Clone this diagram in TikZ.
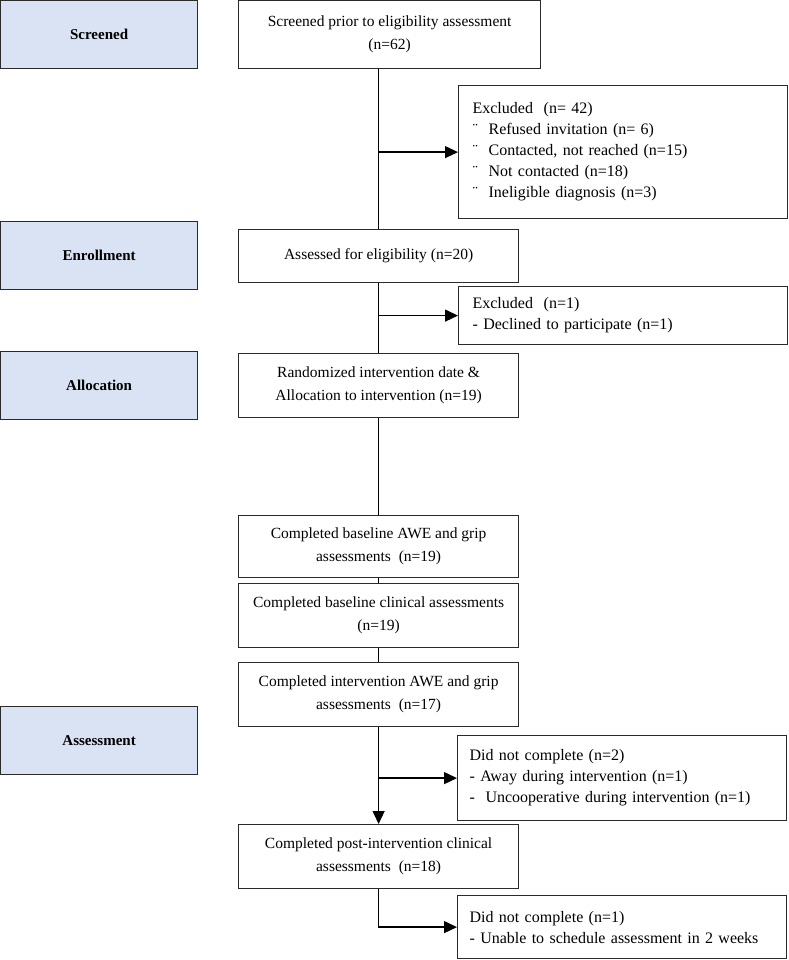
\documentclass[tikz,border=0pt]{standalone}
\usepackage{fontspec}
\setmainfont{Liberation Serif}
\usetikzlibrary{arrows.meta}

\definecolor{stagefill}{HTML}{DAE3F3}
\definecolor{edgegray}{HTML}{2B2B2B}

\begin{document}
\begin{tikzpicture}[x=1pt,y=-1pt]
  \tikzstyle{stage} = [draw=edgegray,line width=1.2pt,fill=stagefill,anchor=north west,
    minimum width=197pt,minimum height=68pt,inner sep=0pt,font=\fontsize{15}{18}\selectfont\bfseries]
  \tikzstyle{box} = [draw=edgegray,line width=1.2pt,fill=white,anchor=north west,align=center,
    minimum width=280pt,inner sep=0pt,font=\fontsize{15.5}{23}\selectfont]
  \tikzstyle{side} = [draw=edgegray,line width=1.2pt,fill=white,anchor=north west,align=left,
    text width=305pt,inner xsep=12pt,inner ysep=0pt,font=\fontsize{16}{21}\selectfont]
  \tikzstyle{line} = [line width=1.3pt]
  \tikzstyle{arr} = [line,-{Triangle[length=13pt,width=12pt]}]

  \useasboundingbox (0,0) rectangle (788,960);

  % stages on the left
  \node[stage] (scr) at (0,0)   {Screened};
  \node[stage] (enr) at (0,221) {Enrollment};
  \node[stage] (alc) at (0,351) {Allocation};
  \node[stage] (asm) at (0,706) {Assessment};

  % main column
  \node[box,minimum width=302pt,minimum height=68pt] (screen) at (238,0)
    {Screened prior to eligibility assessment\\(n=62)};
  \node[box,minimum height=53pt] (elig) at (238,229) {Assessed for eligibility (n=20)};
  \node[box,minimum height=64pt] (rand) at (238,353)
    {Randomized intervention date \&\\Allocation to intervention (n=19)};
  \node[box,minimum height=62pt] (basegrip) at (238,515)
    {Completed baseline AWE and grip\\assessments \ (n=19)};
  \node[box,minimum height=64pt] (baseclin) at (238,583)
    {Completed baseline clinical assessments\\(n=19)};
  \node[box,minimum height=64pt] (intgrip) at (238,662)
    {Completed intervention AWE and grip\\assessments \ (n=17)};
  \node[box,minimum height=64pt] (postclin) at (238,824)
    {Completed post-intervention clinical\\assessments \ (n=18)};

  % excluded / dropped out
  \node[side,minimum height=133pt,inner xsep=14pt,text width=301pt] (excla) at (458,85)
    {Excluded \ (n= 42)\\
     \makebox[16pt][l]{¨}Refused invitation (n= 6)\\
     \makebox[16pt][l]{¨}Contacted, not reached (n=15)\\
     \makebox[16pt][l]{¨}Not contacted (n=18)\\
     \makebox[16pt][l]{¨}Ineligible diagnosis (n=3)};
  \node[side,minimum height=58pt,inner xsep=14pt,text width=301pt] (exclb) at (458,286)
    {Excluded \ (n=1)\\- Declined to participate (n=1)};
  \node[side,minimum height=85pt] (dnca) at (457,735)
    {Did not complete (n=2)\\- Away during intervention (n=1)\\- \ Uncooperative during intervention (n=1)};
  \node[side,minimum height=63pt] (dncb) at (457,895)
    {Did not complete (n=1)\\- Unable to schedule assessment in 2 weeks};

  % connectors
  \draw[line] (elig.north |- screen.south) -- (elig.north);
  \draw[arr] (elig.north |- excla.west) -- (excla.west);
  \draw[line] (elig.south) -- (rand.north);
  \draw[arr] (elig.south |- exclb.west) -- (exclb.west);
  \draw[line] (rand.south) -- (basegrip.north);
  \draw[line] (basegrip.south) -- (baseclin.north);
  \draw[line] (baseclin.south) -- (intgrip.north);
  \draw[arr] (intgrip.south) -- (postclin.north);
  \draw[arr] (intgrip.south |- dnca.west) -- (dnca.west);
  \draw[arr] (postclin.south) |- (dncb.west);
\end{tikzpicture}
\end{document}
